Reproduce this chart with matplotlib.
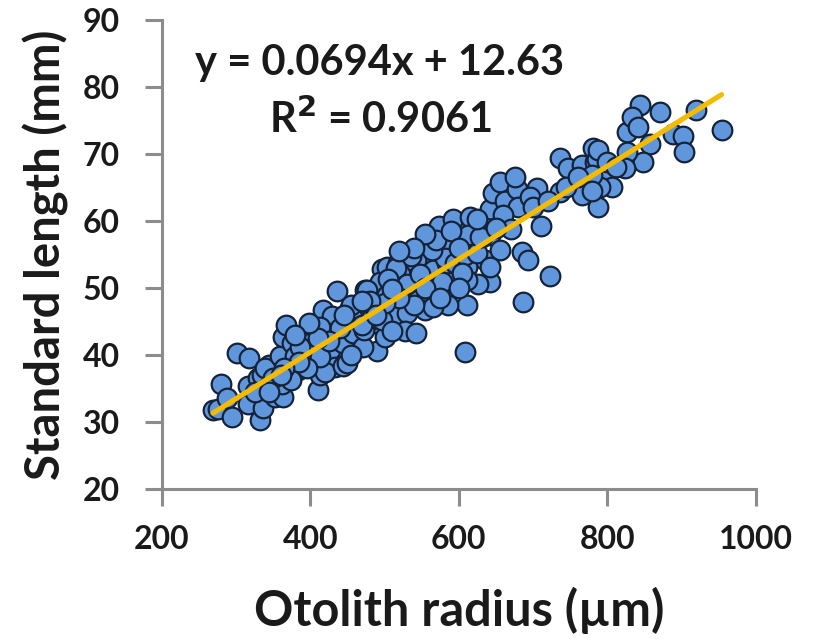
import numpy as np
import matplotlib.pyplot as plt

# otolith radius (um) and standard length (mm)
radius = [
    269, 276, 280, 288, 294, 301, 317, 316, 316, 329, 332, 336, 335, 345, 339,
    352, 363, 362, 359, 363, 368, 375, 380, 384, 374, 397, 402, 410, 413, 406,
    417, 429, 422, 426, 434, 436, 436, 386, 406, 420, 444, 451, 453, 464, 471,
    474, 460, 484, 490, 500, 496, 494, 504, 517, 518, 514, 530, 527, 543, 545,
    554, 561, 543, 531, 568, 565, 449, 444, 457, 471, 480, 496, 413, 413, 476,
    521, 536, 572, 591, 605, 642, 635, 611, 586, 585, 473, 456, 490, 503, 565,
    584, 611, 619, 655, 608, 574, 592, 581, 595, 615, 615, 608, 624, 638, 631,
    642, 646, 655, 662, 678, 680, 676, 685, 693, 642, 626, 642, 578, 611, 686,
    711, 565, 736, 747, 766, 781, 783, 797, 807, 787, 766, 736, 706, 696, 723,
    827, 844, 834, 841, 871, 920, 954, 888, 902, 904, 857, 848, 826, 824, 790,
    786, 787, 779, 564, 570, 612, 628, 604,
    515, 505, 530, 548, 555, 540, 520, 500, 470, 455, 440, 425, 410, 395, 385,
    350, 342, 325, 365, 455, 480, 510, 590, 600, 625, 660, 670, 650, 700, 720,
    745, 760, 800, 812, 780, 600, 575, 555, 540, 520, 510, 488, 470, 445, 398,
    380, 360, 345,
]
length = [
    31.8, 31.9, 35.6, 33.6, 30.7, 40.2, 39.6, 35.4, 32.6, 36.6, 30.3, 32.1, 37.0, 38.5, 38.0,
    33.7, 33.7, 35.7, 39.8, 42.7, 44.4, 41.8, 39.8, 37.8, 36.3, 39.2, 41.9, 34.8, 37.0, 44.2,
    46.7, 45.8, 43.3, 40.7, 38.2, 49.5, 42.2, 41.1, 38.8, 37.5, 38.3, 43.6, 47.0, 41.4, 46.7,
    49.7, 45.2, 44.8, 40.6, 42.7, 52.8, 50.8, 53.1, 51.8, 53.7, 46.0, 46.3, 43.6, 43.3, 48.2,
    46.7, 54.9, 54.2, 54.2, 51.2, 57.6, 38.8, 41.8, 43.3, 41.2, 45.2, 45.2, 39.7, 44.2, 49.7,
    52.0, 54.8, 57.9, 56.4, 59.1, 57.9, 54.2, 47.5, 47.5, 50.8, 43.7, 45.7, 47.2, 49.0, 52.7,
    53.7, 53.1, 56.7, 55.7, 40.4, 59.3, 60.2, 54.5, 53.7, 60.5, 56.9, 54.9, 55.2, 59.7, 57.6,
    61.7, 64.2, 65.8, 62.9, 64.8, 62.1, 66.6, 55.4, 54.2, 50.9, 50.5, 53.1, 50.8, 51.2, 47.9,
    59.3, 47.2, 69.4, 67.9, 68.4, 70.9, 68.8, 67.3, 65.1, 62.0, 63.9, 64.3, 64.9, 63.6, 51.7,
    73.2, 77.3, 75.5, 74.0, 76.3, 76.6, 73.6, 73.0, 72.6, 70.2, 71.4, 68.8, 70.3, 67.9, 65.1,
    69.3, 70.6, 66.9, 55.7, 57.2, 57.9, 57.6, 52.2,
    53.0, 51.3, 50.5, 52.0, 50.0, 47.5, 48.5, 47.8, 44.5, 40.0, 44.0, 42.0, 42.5, 38.0, 39.0,
    36.5, 35.0, 34.5, 38.0, 47.5, 48.0, 49.8, 58.5, 56.0, 60.3, 60.8, 58.8, 59.0, 62.0, 63.0,
    65.0, 66.5, 68.8, 68.0, 64.5, 50.0, 48.5, 58.0, 56.0, 55.5, 43.5, 46.0, 48.0, 46.0, 44.8,
    43.0, 37.0, 34.5,
]

slope = 0.0694
intercept = 12.63
r2 = 0.9061

plt.rcParams['font.family'] = ['Lato', 'DejaVu Sans']

fig = plt.figure(figsize=(8.17, 6.39), dpi=100)
ax = fig.add_axes([0.198, 0.235, 0.727, 0.734])

ax.scatter(radius, length, s=200, c="#6097dc", edgecolors="#15233a",
           linewidths=1.6, zorder=2)

# linear trend line over the data range
xs = np.array([min(radius), max(radius)])
ax.plot(xs, slope * xs + intercept, color="#f4bb00", lw=3.7, zorder=3,
        solid_capstyle="round")

ax.text(494, 83.6, "y = %.4fx + %.2f" % (slope, intercept), ha="center",
        va="center", fontsize=30, fontweight="bold", color="#1a1a1a")
ax.text(494, 75.3, "R$^{\\mathbf{2}}$ = %.4f" % r2, ha="center",
        va="center", fontsize=30, fontweight="bold", color="#1a1a1a")

ax.set_xlim(200, 1000)
ax.set_ylim(20, 90)
ax.set_xticks([200, 400, 600, 800, 1000])
ax.set_yticks(range(20, 91, 10))

for side in ["top", "right"]:
    ax.spines[side].set_visible(False)
for side in ["left", "bottom"]:
    ax.spines[side].set_color("#8c8c8c")
    ax.spines[side].set_linewidth(2.2)

ax.tick_params(axis="both", direction="out", length=12, width=2.2,
               color="#8c8c8c", labelsize=23, labelcolor="#1a1a1a")
ax.tick_params(axis="y", pad=18)
ax.tick_params(axis="x", pad=14)
for lab in ax.get_xticklabels() + ax.get_yticklabels():
    lab.set_fontweight("bold")

ax.set_xlabel("Otolith radius (\u00b5m)", fontsize=35, fontweight="bold",
              color="#1a1a1a", labelpad=24)
ax.set_ylabel("Standard length (mm)", fontsize=34, fontweight="bold",
              color="#1a1a1a", labelpad=10)

fig.savefig("out.png", dpi=100)
